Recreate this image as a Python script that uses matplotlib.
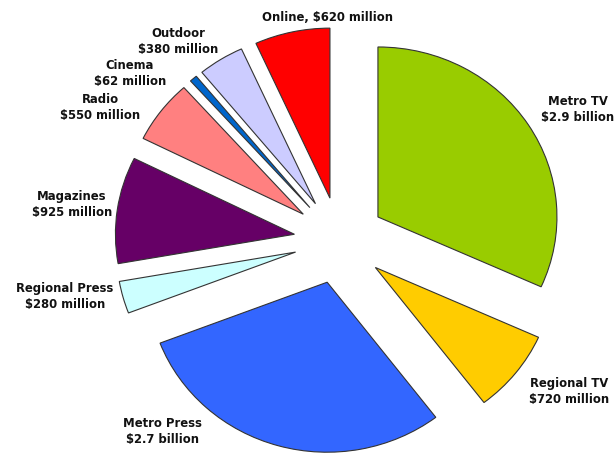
"""
Exploded pie of advertising spend by media.
"""

import matplotlib

matplotlib.use("Agg")
import matplotlib.pyplot as plt

plt.rcParams.update({"font.family": "DejaVu Sans", "font.size": 8.4})

media = [
    "Metro TV",
    "Regional TV",
    "Metro Press",
    "Regional Press",
    "Magazines",
    "Radio",
    "Cinema",
    "Outdoor",
    "Online",
]
spend_millions = [2900, 720, 2700, 280, 925, 550, 62, 380, 620]
spend_labels = [
    "$2.9 billion",
    "$720 million",
    "$2.7 billion",
    "$280 million",
    "$925 million",
    "$550 million",
    "$62 million",
    "$380 million",
    "$620 million",
]
colors = [
    "#99CC00",
    "#FFCC00",
    "#3366FF",
    "#CCFFFF",
    "#660066",
    "#FF8080",
    "#0066CC",
    "#CCCCFF",
    "#FF0000",
]

# label anchors in pie-radius units (layout only)
label_pos = [
    (1.332, 0.768),
    (1.282, -0.891),
    (-0.987, -1.121),
    (-1.534, -0.332),
    (-1.495, 0.209),
    (-1.338, 0.785),
    (-1.171, 0.985),
    (-0.903, 1.168),
    (-0.065, 1.309),
]

fig = plt.figure(figsize=(6.15, 4.53), dpi=100)
ax = fig.add_axes([0, 0, 1, 1])
ax.pie(
    spend_millions,
    colors=colors,
    explode=[0.255] * len(spend_millions),
    startangle=90,
    counterclock=False,
    radius=1.0,
    wedgeprops={"edgecolor": "#333333", "linewidth": 0.8},
)

for name, value, (x, y) in zip(media, spend_labels, label_pos):
    if name == "Online":
        text = f"{name}, {value}"
    else:
        text = f"{name}\n{value}"
    ax.text(
        x, y, text, ha="center", va="center", fontweight="bold",
        linespacing=1.3, color="#111111",
    )

# slightly squashed vertically, like the original
cx, cy, sx, sy = 339.6, 240.5, 179.0, 170.0
ax.set_xlim(-cx / sx, (615 - cx) / sx)
ax.set_ylim(-(453 - cy) / sy, cy / sy)
ax.set_aspect("auto")
ax.axis("off")

plt.savefig("out.png", dpi=100)
